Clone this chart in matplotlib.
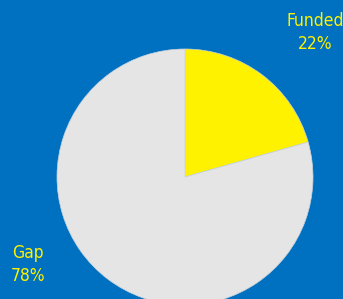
import matplotlib
matplotlib.use('Agg')
import matplotlib.pyplot as plt

labels = ['Funded', 'Gap']
pct_labels = ['22%', '78%']
# slice sizes as drawn in the picture (funded wedge spans about 74 degrees)
shares = [20.6, 79.4]
colors = ['#FFF200', '#E5E5E5']
bg = '#0070C0'

W, H = 343, 299
fig = plt.figure(figsize=(W / 100, H / 100), dpi=100)
fig.patch.set_facecolor(bg)

# pie centre (185,177) px, radius 128 px
cx, cy, r = 185, H - 177, 128
ax = fig.add_axes([(cx - r) / W, (cy - r) / H, 2 * r / W, 2 * r / H])
ax.set_facecolor(bg)
ax.pie(shares, colors=colors, startangle=90, counterclock=False, radius=1,
       wedgeprops=dict(edgecolor='#C9D3DC', linewidth=0.5))
ax.set_xlim(-1, 1)
ax.set_ylim(-1, 1)
ax.set_aspect('auto')
ax.axis('off')

font = dict(family='DejaVu Sans', stretch='condensed', fontsize=12.5,
            color='#FFF200', ha='center', va='center', linespacing=1.3)
fig.text(315 / W, 1 - 32.5 / H, labels[0] + '\n' + pct_labels[0], **font)
fig.text(28 / W, 1 - 264.5 / H, labels[1] + '\n' + pct_labels[1], **font)

fig.savefig('out.png', dpi=100, facecolor=bg)
